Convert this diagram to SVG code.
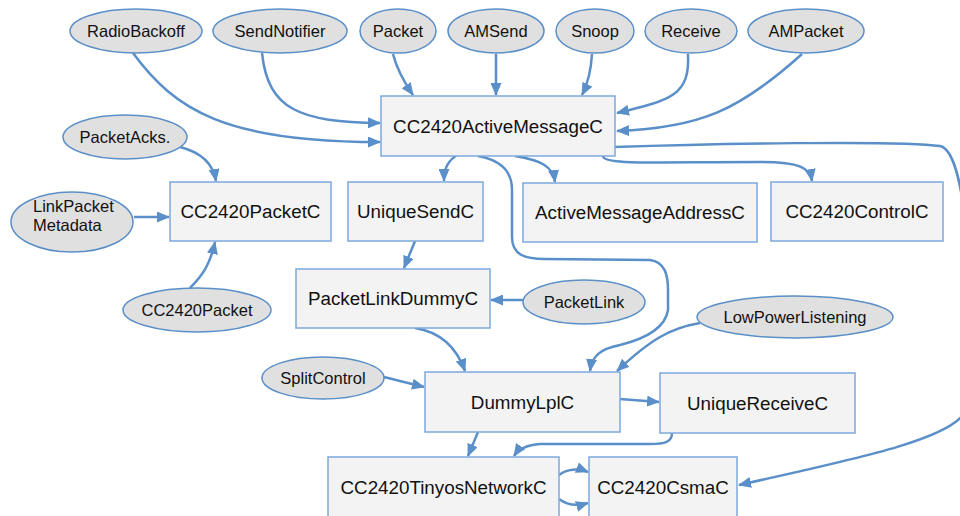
<svg xmlns="http://www.w3.org/2000/svg" width="960" height="516" viewBox="0 0 960 516">
<style>
.box{fill:#f3f3f3;stroke:#7ea9dc;stroke-width:1.5}
.ell{fill:#e0e0e0;stroke:#5b8fc8;stroke-width:1.5}
.bt{font-family:"Liberation Sans",Arial,sans-serif;font-size:18.8px;fill:#111;text-anchor:middle}
.et{font-family:"Liberation Sans",Arial,sans-serif;font-size:16.5px;fill:#111;text-anchor:middle}
.e{fill:none;stroke:#5a8fc9;stroke-width:2.5;marker-end:url(#ah)}
.n{fill:none;stroke:#5a8fc9;stroke-width:2.5}
</style>
<defs>
<marker id="ah" markerUnits="userSpaceOnUse" markerWidth="13" markerHeight="11" refX="12" refY="5.5" orient="auto">
<path d="M0,0 L13,5.5 L0,11 z" fill="#5a8fc9"/>
</marker>
</defs>
<rect width="960" height="516" fill="#fff"/>
<g id="connectors">
<path class="e" d="M133,53 C175,110 225,142 380,142"/>
<path class="e" d="M262,53 C268,110 300,122 380,123"/>
<path class="e" d="M393,54 C397,70 404,82 413,95"/>
<path class="e" d="M496,54 L496,95"/>
<path class="e" d="M592,54 C591,72 588,83 582,95"/>
<path class="e" d="M688,54 C690,95 672,100 617,113"/>
<path class="e" d="M802,54 C740,110 700,128 617,131"/>
<path class="e" d="M180,147 C200,152 213,163 216,181"/>
<path class="e" d="M134,217 L169,217"/>
<path class="e" d="M190,288 C202,276 210,265 215,242"/>
<path class="e" d="M459,154 C448,160 444,168 444,181"/>
<path class="e" d="M515,156 C540,160 553,166 555,182"/>
<path class="e" d="M603,156 C603,165 650,162 760,162 C800,162 810,168 812,181"/>
<path class="e" d="M615,147 C700,144 900,140 940,146 C968,152 975,300 965,412 C950,440 850,460 739,485"/>
<path class="e" d="M478,156 C500,160 512,170 512,190 L512,237 C512,255 525,259 545,259 L650,260 C665,262 668,275 668,290 L668,310 C665,330 640,340 620,345 C600,349 592,356 590,371"/>
<path class="e" d="M700,323 C670,328 650,340 617,371"/>
<path class="e" d="M523,300 L491,300"/>
<path class="e" d="M415,241 L404,268"/>
<path class="e" d="M415,328 C440,332 456,346 465,371"/>
<path class="e" d="M384,377 L424,387"/>
<path class="e" d="M620,399 L659,402"/>
<path class="e" d="M478,432 L468,456"/>
<path class="e" d="M672,433 C672,442 665,444 650,444 L540,444 C525,445 518,450 514,456"/>
<path class="e" d="M559,475 C567,469 578,468 588,472"/>
<path class="e" d="M559,499 C567,505 578,506 588,503"/>
</g>
<g id="RadioBackoff"><ellipse class="ell" cx="136" cy="31" rx="66" ry="22"/><text class="et" x="136" y="37">RadioBackoff</text></g>
<g id="SendNotifier"><ellipse class="ell" cx="280" cy="31" rx="67" ry="22"/><text class="et" x="280" y="37">SendNotifier</text></g>
<g id="Packet"><ellipse class="ell" cx="398" cy="31" rx="38" ry="22"/><text class="et" x="398" y="37">Packet</text></g>
<g id="AMSend"><ellipse class="ell" cx="496" cy="31" rx="48" ry="22"/><text class="et" x="496" y="37">AMSend</text></g>
<g id="Snoop"><ellipse class="ell" cx="595" cy="31" rx="39" ry="22"/><text class="et" x="595" y="37">Snoop</text></g>
<g id="Receive"><ellipse class="ell" cx="691" cy="31" rx="46" ry="22"/><text class="et" x="691" y="37">Receive</text></g>
<g id="AMPacket"><ellipse class="ell" cx="806" cy="31" rx="58" ry="22"/><text class="et" x="806" y="37">AMPacket</text></g>
<g id="CC2420ActiveMessageC"><rect class="box" x="381" y="96" width="234" height="60"/><text class="bt" x="498" y="133">CC2420ActiveMessageC</text></g>
<g id="PacketAcks"><ellipse class="ell" cx="125" cy="137" rx="62" ry="22"/><text class="et" x="125" y="143">PacketAcks.</text></g>
<g id="LinkPacketMetadata"><ellipse class="ell" cx="72" cy="222" rx="61" ry="30"/><text class="et" x="33" y="212" text-anchor="start" style="text-anchor:start">LinkPacket</text><text class="et" x="33" y="231" style="text-anchor:start">Metadata</text></g>
<g id="CC2420PacketC"><rect class="box" x="170" y="182" width="161" height="59"/><text class="bt" x="250.5" y="218">CC2420PacketC</text></g>
<g id="UniqueSendC"><rect class="box" x="348" y="182" width="135" height="59"/><text class="bt" x="415.5" y="218">UniqueSendC</text></g>
<g id="ActiveMessageAddressC"><rect class="box" x="523" y="183" width="234" height="59"/><text class="bt" x="640" y="219">ActiveMessageAddressC</text></g>
<g id="CC2420ControlC"><rect class="box" x="771" y="182" width="172" height="59"/><text class="bt" x="857" y="218">CC2420ControlC</text></g>
<g id="CC2420Packet"><ellipse class="ell" cx="197" cy="310" rx="74" ry="22"/><text class="et" x="197" y="316">CC2420Packet</text></g>
<g id="PacketLinkDummyC"><rect class="box" x="296" y="269" width="194" height="59"/><text class="bt" x="393" y="305">PacketLinkDummyC</text></g>
<g id="PacketLink"><ellipse class="ell" cx="584" cy="302" rx="61" ry="22"/><text class="et" x="584" y="308">PacketLink</text></g>
<g id="LowPowerListening"><ellipse class="ell" cx="795" cy="317" rx="98" ry="21"/><text class="et" x="795" y="323">LowPowerListening</text></g>
<g id="SplitControl"><ellipse class="ell" cx="323" cy="378" rx="61" ry="21"/><text class="et" x="323" y="384">SplitControl</text></g>
<g id="DummyLplC"><rect class="box" x="425" y="372" width="195" height="60"/><text class="bt" x="522.5" y="409">DummyLplC</text></g>
<g id="UniqueReceiveC"><rect class="box" x="660" y="373" width="195" height="60"/><text class="bt" x="757.5" y="410">UniqueReceiveC</text></g>
<g id="CC2420TinyosNetworkC"><rect class="box" x="328" y="457" width="231" height="62"/><text class="bt" x="443.5" y="494">CC2420TinyosNetworkC</text></g>
<g id="CC2420CsmaC"><rect class="box" x="589" y="457" width="148" height="62"/><text class="bt" x="663" y="494">CC2420CsmaC</text></g>
</svg>
